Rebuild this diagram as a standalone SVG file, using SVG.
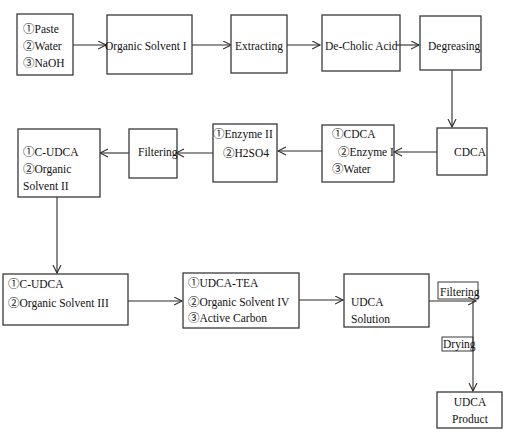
<svg xmlns="http://www.w3.org/2000/svg" width="516" height="436" viewBox="0 0 516 436" font-family="'Liberation Serif','Times New Roman','Noto Sans CJK SC',serif">
<defs>
<style>
.b{fill:#fff;stroke:#3a3a3a;stroke-width:1.3}
.l{fill:none;stroke:#3a3a3a;stroke-width:1}
.c{fill:none;stroke:#2a2a2a;stroke-width:1.1;marker-end:url(#a)}
text{font-family:'Liberation Serif','Times New Roman','Noto Sans CJK SC',serif;font-size:11.5px;fill:#111}
</style>
<marker id="a" markerUnits="userSpaceOnUse" markerWidth="10" markerHeight="10" refX="8.5" refY="4.5" orient="auto">
<path d="M0.5,0.5 L8.5,4.5 L0.5,8.5" fill="none" stroke="#2a2a2a" stroke-width="1.1"/>
</marker>
</defs>
<rect width="516" height="436" fill="#fff"/>
<g id="connectors">
<line class="c" x1="73" y1="45" x2="106" y2="45"/>
<line class="c" x1="192" y1="45" x2="231" y2="45"/>
<line class="c" x1="287" y1="45" x2="320" y2="45"/>
<line class="c" x1="396" y1="45" x2="419" y2="45"/>
<line class="c" x1="452" y1="70" x2="452" y2="127"/>
<line class="c" x1="437" y1="152" x2="394" y2="152"/>
<line class="c" x1="322" y1="151" x2="278" y2="151"/>
<line class="c" x1="213" y1="153" x2="176" y2="153"/>
<line class="c" x1="129" y1="153" x2="100" y2="153"/>
<line class="c" x1="57" y1="197" x2="57" y2="273"/>
<line class="c" x1="128" y1="301" x2="182" y2="301"/>
<line class="c" x1="299" y1="300" x2="343" y2="300"/>
<line class="c" x1="429" y1="301" x2="476" y2="301"/>
<line class="c" x1="473" y1="301" x2="473" y2="391"/>
</g>
<g id="n1"><rect class="b" x="17" y="14" width="56" height="61"/>
<text x="23" y="33">①Paste</text><text x="23" y="50">②Water</text><text x="23" y="67">③NaOH</text></g>
<g id="n2"><rect class="b" x="107" y="15" width="85" height="59" style="fill:none"/>
<text x="105" y="50">Organic Solvent I</text></g>
<g id="n3"><rect class="b" x="231" y="15" width="56" height="58"/>
<text x="235" y="50">Extracting</text></g>
<g id="n4"><rect class="b" x="322" y="15" width="78" height="56" style="fill:none"/>
<text x="325" y="50">De-Cholic Acid</text></g>
<g id="n5"><rect class="b" x="420" y="16" width="61" height="54"/>
<text x="428" y="50">Degreasing</text></g>
<g id="n6"><rect class="b" x="437" y="128" width="50" height="47"/>
<text x="454" y="156">CDCA</text></g>
<g id="n7"><rect class="b" x="322" y="125" width="72" height="57" style="fill:none"/>
<text x="332" y="138">①CDCA</text><text x="338" y="156">②Enzyme I</text><text x="332" y="173">③Water</text></g>
<g id="n8"><rect class="b" x="213" y="124" width="64" height="58"/>
<text x="213" y="138">①Enzyme II</text><text x="223" y="157">②H2SO4</text></g>
<g id="n9"><rect class="b" x="129" y="129" width="48" height="49" style="fill:none"/>
<text x="138" y="156">Filtering</text></g>
<g id="n10"><rect class="b" x="18" y="129" width="82" height="68"/>
<text x="23" y="156">①C-UDCA</text><text x="23" y="173">②Organic</text><text x="23" y="190">Solvent II</text></g>
<g id="n11"><rect class="b" x="3" y="274" width="125" height="51"/>
<text x="8" y="288">①C-UDCA</text><text x="8" y="307">②Organic Solvent III</text></g>
<g id="n12"><rect class="b" x="183" y="273" width="116" height="55"/>
<text x="188" y="287">①UDCA-TEA</text><text x="188" y="306">②Organic Solvent IV</text><text x="188" y="322">③Active Carbon</text></g>
<g id="n13"><rect class="b" x="344" y="274" width="85" height="53"/>
<text x="351" y="306">UDCA</text><text x="351" y="323">Solution</text></g>
<g id="n14"><rect class="l" x="438" y="282" width="40" height="17"/>
<text x="440" y="296">Filtering</text></g>
<g id="n15"><rect class="l" x="442" y="337" width="31" height="14"/>
<text x="443" y="348">Drying</text></g>
<g id="n16"><rect class="b" x="437" y="392" width="65" height="36"/>
<text x="470" y="406" text-anchor="middle">UDCA</text><text x="470" y="423" text-anchor="middle">Product</text></g>
</svg>
